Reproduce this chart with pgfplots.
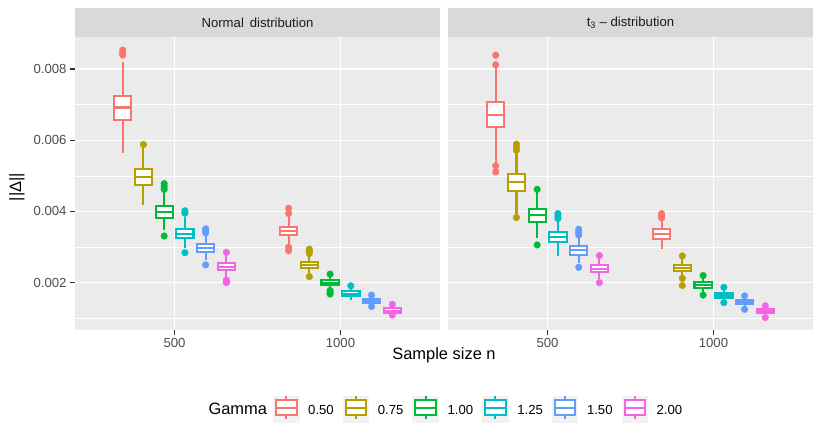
\documentclass[border=0pt]{standalone}
\usepackage{fontspec}
\setmainfont{Liberation Sans}
\usepackage{pgfplots}
\pgfplotsset{compat=1.18}
\usepgfplotslibrary{statistics}
\definecolor{c1}{HTML}{F8766D}
\definecolor{c2}{HTML}{B79F00}
\definecolor{c3}{HTML}{00BA38}
\definecolor{c4}{HTML}{00BFC4}
\definecolor{c5}{HTML}{619CFF}
\definecolor{c6}{HTML}{F564E3}
\definecolor{bg}{HTML}{EBEBEB}
\definecolor{stripc}{HTML}{D9D9D9}
\definecolor{g30}{HTML}{4D4D4D}
\definecolor{g20}{HTML}{333333}
\definecolor{g10}{HTML}{1A1A1A}
\definecolor{keybg}{HTML}{F2F2F2}
\newcommand{\tickfont}{\fontsize{13.2}{15}\selectfont}
\newcommand{\titlefont}{\fontsize{16.5}{19}\selectfont}
\pgfplotsset{
  panel/.style={
    scale only axis, width=365bp, height=293bp,
    xmin=200, xmax=1300, ymin=0.00067, ymax=0.0089,
    axis background/.style={fill=bg},
    axis line style={draw=none},
    grid=both,
    major grid style={white, line width=1.1bp},
    minor grid style={white, line width=0.55bp},
    xtick={500,1000}, minor xtick={},
    ytick={0.002,0.004,0.006,0.008},
    minor ytick={0.001,0.003,0.005,0.007},
    tick pos=left, tick align=outside,
    major tick length=5bp, minor tick length=0bp,
    tick style={color=g20, line width=1.1bp},
    scaled y ticks=false,
    /pgf/number format/assume math mode=true,
    xticklabel style={font=\tickfont, text=g30, /pgf/number format/1000 sep={}},
    yticklabel style={font=\tickfont, text=g30, /pgf/number format/fixed,
      /pgf/number format/precision=3, /pgf/number format/fixed zerofill},
    clip=false,
  },
  bx/.style={
    color=#1, line width=2.1bp, solid, mark=none,
    boxplot/every box/.style={draw=#1, fill=white, line width=2.1bp},
    boxplot/every median/.style={draw=#1, line width=2.1bp},
    boxplot/every whisker/.style={draw=#1, line width=2.1bp},
    boxplot/box extend=52, boxplot/whisker extend=0,
    boxplot/draw direction=y,
  },
  ol/.style={only marks, mark=*, mark size=3.4bp,
    mark options={solid, fill=#1, draw=#1, line width=0.2bp}},
}
% colour, position, lower whisker, lower quartile, median, upper quartile, upper whisker, outliers (x,y)
\newcommand{\bplot}[8]{\addplot[bx=#1, boxplot prepared={draw position=#2,
  lower whisker=#3, lower quartile=#4, median=#5, upper quartile=#6, upper whisker=#7}]
  coordinates {};
  \addplot[ol=#1] coordinates {#8};}
\begin{document}
\begin{tikzpicture}[x=1bp,y=1bp]
\useasboundingbox (0,0) rectangle (822,439);
% strips
\fill[stripc] (75,402) rectangle (440,431);
\node[text=g10, font=\tickfont] at (257.5,416.5) {Normal\hspace{0.45em}distribution};
\fill[stripc] (448,402) rectangle (813,431);
\node[text=g10, font=\tickfont] at (630.5,416.5) {t\textsubscript{3} – distribution};

\begin{axis}[panel, at={(75bp,109bp)}, anchor=south west]
\bplot{c1}{343.75}{0.00563}{0.00658}{0.00692}{0.00724}{0.0082}{(343.75,0.00839) (343.75,0.00846) (343.75,0.00853)}
\bplot{c2}{406.25}{0.00418}{0.00474}{0.00497}{0.00518}{0.00581}{(406.25,0.00588)}
\bplot{c3}{468.75}{0.00348}{0.00382}{0.00398}{0.00415}{0.00455}{(468.75,0.00331) (468.75,0.00462) (468.75,0.00470) (468.75,0.00478)}
\bplot{c4}{531.25}{0.00296}{0.00325}{0.00337}{0.00351}{0.00385}{(531.25,0.00284) (531.25,0.00395) (531.25,0.00402)}
\bplot{c5}{593.75}{0.00264}{0.00286}{0.00297}{0.00309}{0.00334}{(593.75,0.00250) (593.75,0.00340) (593.75,0.00346) (593.75,0.00351)}
\bplot{c6}{656.25}{0.00215}{0.00236}{0.00245}{0.00255}{0.00278}{(656.25,0.00200) (656.25,0.00204) (656.25,0.00207) (656.25,0.00285)}
\bplot{c1}{843.75}{0.00306}{0.00333}{0.00346}{0.00357}{0.00385}{(843.75,0.00290) (843.75,0.00299) (843.75,0.00394) (843.75,0.00409)}
\bplot{c2}{906.25}{0.00228}{0.00240}{0.00250}{0.00258}{0.00278}{(906.25,0.00217) (906.25,0.00282) (906.25,0.00288) (906.25,0.00294)}
\bplot{c3}{968.75}{0.00181}{0.00193}{0.00200}{0.00207}{0.00217}{(968.75,0.00168) (968.75,0.00173) (968.75,0.00178) (968.75,0.00224)}
\bplot{c4}{1031.25}{0.00151}{0.00163}{0.00169}{0.00176}{0.00183}{(1031.25,0.00191)}
\bplot{c5}{1093.75}{0.00137}{0.00142}{0.00149}{0.00155}{0.00161}{(1093.75,0.00133) (1093.75,0.00165)}
\bplot{c6}{1156.25}{0.00111}{0.00116}{0.00121}{0.00128}{0.00135}{(1156.25,0.00109) (1156.25,0.00139)}
\end{axis}

\begin{axis}[panel, at={(448bp,109bp)}, anchor=south west, yticklabels={}, ytick style={draw=none}]
\bplot{c1}{343.75}{0.00535}{0.00638}{0.00670}{0.00708}{0.00806}{(343.75,0.00511) (343.75,0.00528) (343.75,0.00812) (343.75,0.00839)}
\bplot{c2}{406.25}{0.00394}{0.00458}{0.00483}{0.00505}{0.00567}{(406.25,0.00383) (406.25,0.00572) (406.25,0.00580) (406.25,0.00589)}
\bplot{c3}{468.75}{0.00324}{0.00370}{0.00389}{0.00406}{0.00455}{(468.75,0.00306) (468.75,0.00462)}
\bplot{c4}{531.25}{0.00275}{0.00314}{0.00329}{0.00343}{0.00376}{(531.25,0.00380) (531.25,0.00387) (531.25,0.00394)}
\bplot{c5}{593.75}{0.00254}{0.00277}{0.00292}{0.00303}{0.00329}{(593.75,0.00243) (593.75,0.00334) (593.75,0.00342) (593.75,0.00350)}
\bplot{c6}{656.25}{0.00209}{0.00229}{0.00239}{0.00249}{0.00268}{(656.25,0.00200) (656.25,0.00276)}
\bplot{c1}{843.75}{0.00294}{0.00323}{0.00337}{0.00350}{0.00376}{(843.75,0.00382) (843.75,0.00388) (843.75,0.00394)}
\bplot{c2}{906.25}{0.00221}{0.00233}{0.00242}{0.00250}{0.00268}{(906.25,0.00192) (906.25,0.00212) (906.25,0.00275)}
\bplot{c3}{968.75}{0.00174}{0.00185}{0.00193}{0.00202}{0.00212}{(968.75,0.00165) (968.75,0.00220)}
\bplot{c4}{1031.25}{0.00151}{0.00158}{0.00164}{0.00171}{0.00181}{(1031.25,0.00144) (1031.25,0.00187)}
\bplot{c5}{1093.75}{0.00133}{0.00140}{0.00145}{0.00150}{0.00158}{(1093.75,0.00125) (1093.75,0.00163)}
\bplot{c6}{1156.25}{0.00109}{0.00116}{0.00121}{0.00125}{0.00131}{(1156.25,0.00102) (1156.25,0.00135)}
\end{axis}

% axis titles
\node[font=\titlefont] at (444,84) {Sample size n};
\node[font=\titlefont, rotate=90] at (17,252) {||Δ||};

% legend
\node[font=\titlefont, anchor=west] at (205,30) {Gamma};
\foreach \c [count=\i from 0] in {c1,c2,c3,c4,c5,c6}{
  \pgfmathsetmacro{\xo}{273+69.7*\i}
  \fill[keybg] (\xo,16) rectangle ++(26.5,27);
  \draw[\c, line width=2bp] (\xo+13.25,19.5) -- (\xo+13.25,23.5);
  \draw[\c, line width=2bp] (\xo+13.25,38.5) -- (\xo+13.25,42.5);
  \draw[\c, line width=2bp, fill=white] (\xo+3,23.5) rectangle (\xo+23.5,38.5);
  \draw[\c, line width=2bp] (\xo+3,31) -- (\xo+23.5,31);
}
\foreach \t [count=\i from 0] in {0.50,0.75,1.00,1.25,1.50,2.00}{
  \pgfmathsetmacro{\xo}{273+69.7*\i}
  \node[font=\tickfont, anchor=west, inner sep=0pt] at (\xo+35,29.5) {\t};
}
\end{tikzpicture}
\end{document}
